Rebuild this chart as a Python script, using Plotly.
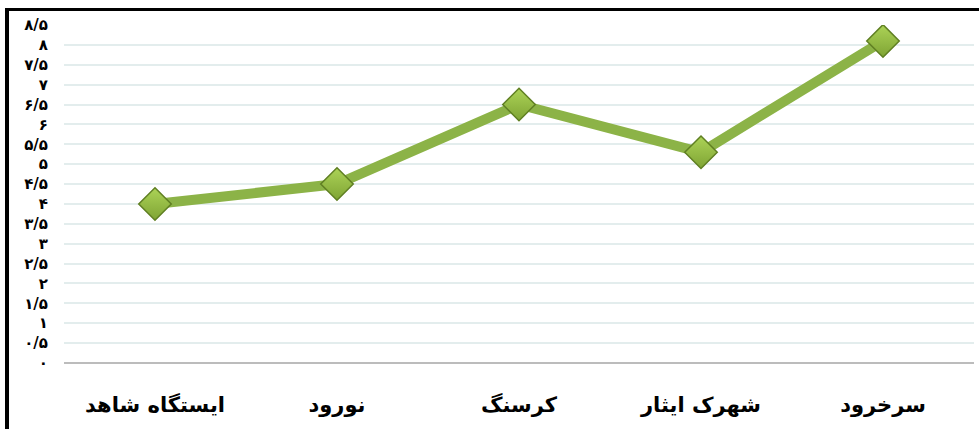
import plotly.graph_objects as go

categories = ["ایستگاه شاهد", "نورود", "کرسنگ", "شهرک ایثار", "سرخرود"]
values = [4.0, 4.5, 6.5, 5.3, 8.1]

tick_vals = [0, 0.5, 1, 1.5, 2, 2.5, 3, 3.5, 4, 4.5, 5, 5.5, 6, 6.5, 7, 7.5, 8, 8.5]
tick_text = ["۰", "۰/۵", "۱", "۱/۵", "۲", "۲/۵", "۳", "۳/۵", "۴", "۴/۵",
             "۵", "۵/۵", "۶", "۶/۵", "۷", "۷/۵", "۸", "۸/۵"]

W, H = 979, 429
L, R, T, B = 64, 5, 25, 66
pw = W - L - R
ph = H - T - B

def px_x(x):
    return (x - L) / pw

def px_y(y):
    return (H - B - y) / ph

fig = go.Figure()
fig.add_trace(go.Scatter(
    x=categories, y=values, mode="lines+markers",
    line=dict(color="#8cb347", width=10),
    marker=dict(symbol="diamond", size=25, color="#acd357",
                gradient=dict(type="vertical", color="#7fa434"),
                line=dict(color="#5f7f22", width=1.5)),
    hoverinfo="skip", showlegend=False,
))

fig.update_layout(
    width=W, height=H,
    margin=dict(l=L, r=R, t=T, b=B, autoexpand=False),
    paper_bgcolor="white", plot_bgcolor="white",
    font=dict(family="DejaVu Sans", color="black"),
    xaxis=dict(
        showgrid=False, zeroline=False, showline=False,
        ticks="", tickfont=dict(size=21, family="DejaVu Sans", weight="bold"),
        ticklabelstandoff=27,
        range=[-0.5, 4.5],
    ),
    yaxis=dict(
        range=[0, 8.5], tickvals=tick_vals, ticktext=tick_text,
        showgrid=True, gridcolor="#e3eded", gridwidth=1.5,
        zeroline=True, zerolinecolor="#bcbcbc", zerolinewidth=1.5,
        showline=False, ticks="",
        tickfont=dict(size=15, family="DejaVu Sans", weight="bold"),
        ticklabelstandoff=15,
    ),
    shapes=[
        dict(type="line", xref="paper", yref="paper",
             x0=px_x(7), x1=px_x(7), y0=px_y(8), y1=px_y(H + 2),
             line=dict(color="black", width=4)),
        dict(type="line", xref="paper", yref="paper",
             x0=px_x(5), x1=px_x(W + 2), y0=px_y(9.5), y1=px_y(9.5),
             line=dict(color="black", width=3)),
    ],
)

fig.write_html("out.html", config={"displayModeBar": False},
               post_script="document.body.style.margin='0';")
